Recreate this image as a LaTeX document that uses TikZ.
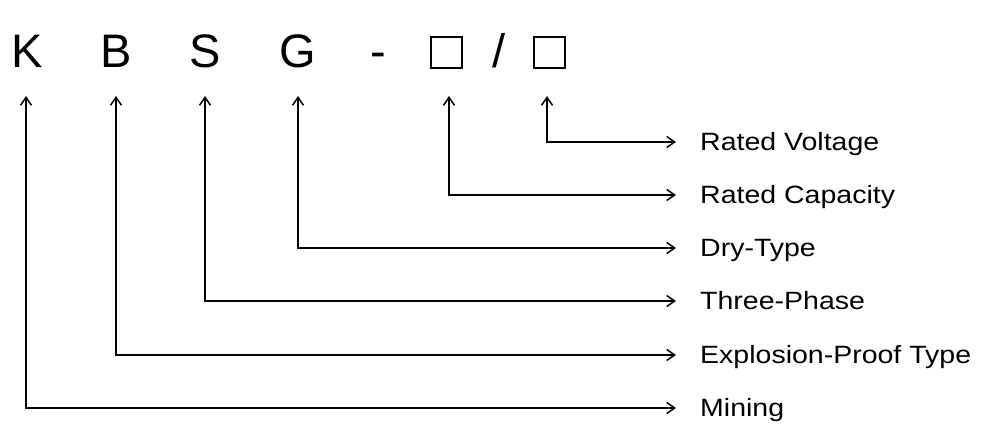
\documentclass[tikz,border=0pt]{standalone}
\usepackage{fontspec}
\setmainfont{Liberation Sans}
\usetikzlibrary{arrows.meta}
\tikzset{
  code/.style={anchor=base, inner sep=0pt, font=\fontsize{47}{47}\selectfont},
  slot/.style={draw, line width=1.8pt, minimum width=31pt, minimum height=31pt, inner sep=0pt},
  lbl/.style={anchor=base west, inner sep=0pt, xscale=1.14, font=\fontsize{25}{25}\selectfont},
  conn/.style={line width=1.5pt, {Straight Barb[length=8pt,width=11pt]}-{Straight Barb[length=8pt,width=11pt]}}
}
\begin{document}
\begin{tikzpicture}[x=1pt,y=-1pt]
\useasboundingbox (0,0) rectangle (1000,444);
% code letters
\node[code] (K) at (27.5,67) {K};
\node[code] (B) at (116,67) {B};
\node[code] (S) at (205,67) {S};
\node[code] (G) at (298,67) {G};
\node[code] (dash) at (378,67) {-};
\node[slot] (box1) at (446.5,52.5) {};
\node[code] (slash) at (499,67) {/};
\node[slot] (box2) at (549.5,52.5) {};
% arrow tips below letters
\coordinate (tK) at (26,96);
\coordinate (tB) at (116,96);
\coordinate (tS) at (205,96);
\coordinate (tG) at (298,96);
\coordinate (t1) at (449,96);
\coordinate (t2) at (547,96);
% arrow ends on the right
\coordinate (e2) at (676,142);
\coordinate (e1) at (676,195);
\coordinate (eG) at (676,248);
\coordinate (eS) at (676,301);
\coordinate (eB) at (676,355);
\coordinate (eK) at (676,408);
% labels
\node[lbl] (l2) at (700,150.5) {Rated Voltage};
\node[lbl] (l1) at (700,203.5) {Rated Capacity};
\node[lbl] (lG) at (700,256.5) {Dry-Type};
\node[lbl] (lS) at (700,309.5) {Three-Phase};
\node[lbl] (lB) at (700,363.5) {Explosion-Proof Type};
\node[lbl] (lK) at (700,416.5) {Mining};
% connectors
\draw[conn] (t2) |- (e2);
\draw[conn] (t1) |- (e1);
\draw[conn] (tG) |- (eG);
\draw[conn] (tS) |- (eS);
\draw[conn] (tB) |- (eB);
\draw[conn] (tK) |- (eK);
\end{tikzpicture}
\end{document}
